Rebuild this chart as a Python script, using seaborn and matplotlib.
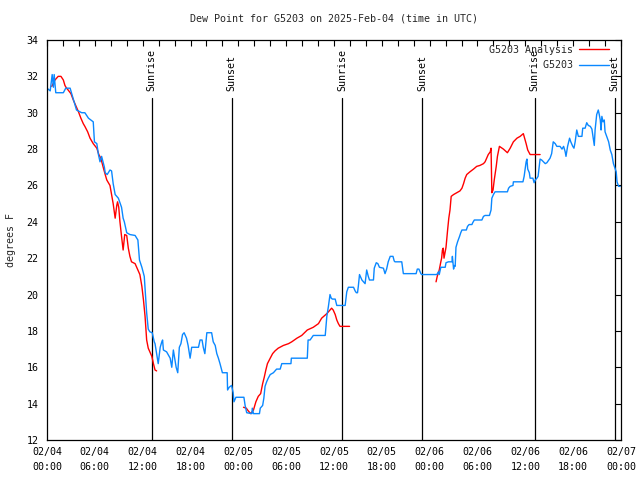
import numpy as np
import pandas as pd
import matplotlib
matplotlib.use('Agg')
import matplotlib.pyplot as plt
import matplotlib.transforms as mtransforms
from matplotlib.lines import Line2D
import seaborn as sns

start = pd.Timestamp('2025-02-04 00:00')

# G5203 observations: hours after 02/04 00:00 UTC, dew point in F
obs_hours = [0.0, 0.4, 0.65, 0.8, 0.9, 1.1, 2.05, 2.35, 2.9, 3.1, 3.7, 4.35, 4.75, 5.2, 5.8,
             5.95, 6.25, 6.45, 6.65, 6.85, 7.2, 7.3, 7.55, 7.9, 8.1, 8.3, 8.55, 8.95, 9.35,
             9.55, 9.7, 10.0, 10.4, 11.05, 11.4, 11.6, 11.9, 12.2, 12.4, 12.5, 12.7, 12.9,
             13.2, 13.45, 13.55, 13.75, 13.95, 14.2, 14.4, 14.5, 14.6, 15.0, 15.45, 15.65,
             15.85, 16.2, 16.4, 16.6, 16.8, 17.0, 17.2, 17.5, 17.7, 17.95, 18.15, 19.0,
             19.2, 19.45, 19.6, 19.8, 20.05, 20.65, 20.85, 21.1, 21.3, 21.5, 21.7, 22.0,
             22.6, 22.65, 22.85, 23.15, 23.35, 23.45, 23.7, 24.7, 24.85, 25.05, 25.7,
             25.75, 25.9, 26.65, 26.75, 27.05, 27.2, 27.35, 27.55, 27.75, 28.0, 28.4, 28.8,
             29.25, 29.45, 30.6, 30.65, 32.65, 32.75, 33.0, 33.4, 34.9, 35.1, 35.3, 35.5,
             35.65, 35.8, 36.15, 36.35, 37.4, 37.6, 37.8, 38.45, 38.65, 38.8, 38.95, 39.05,
             39.2, 39.5, 39.7, 39.9, 40.0, 40.1, 40.3, 40.45, 40.95, 41.05, 41.3, 41.5,
             41.7, 42.2, 42.4, 42.6, 42.8, 43.05, 43.4, 43.55, 43.65, 44.5, 44.7, 46.3,
             46.45, 46.65, 46.9, 47.0, 48.9, 49.1, 49.2, 49.4, 49.95, 50.05, 50.35, 50.8,
             50.85, 51.0, 51.1, 51.2, 51.3, 51.5, 51.75, 51.9, 52.05, 52.6, 52.75, 52.95,
             53.3, 53.4, 53.6, 54.55, 54.75, 54.95, 55.5, 55.7, 55.8, 56.0, 56.2, 57.75,
             57.9, 58.1, 58.45, 58.5, 59.7, 59.85, 60.1, 60.2, 60.3, 60.5, 60.6, 60.95,
             61.1, 61.25, 61.45, 61.6, 61.75, 61.85, 62.05, 62.5, 62.7, 63.1, 63.3, 63.5,
             63.75, 63.95, 64.35, 64.6, 64.8, 65.0, 65.1, 65.3, 65.55, 65.7, 65.95, 66.1,
             66.25, 66.45, 66.65, 67.1, 67.2, 67.5, 67.7, 67.9, 68.15, 68.35, 68.55, 68.65,
             68.75, 68.95, 69.15, 69.25, 69.4, 69.5, 69.6, 69.75, 69.9, 70.0, 70.2, 70.45,
             70.65, 70.85, 71.05, 71.25, 71.4, 71.5, 71.7, 71.9]
obs_dewpt = [31.35, 31.2, 32.1, 31.4, 32.1, 31.1, 31.1, 31.35, 31.35, 31.05, 30.15, 30.0,
             30.0, 29.7, 29.5, 28.4, 28.3, 27.7, 27.3, 27.6, 27.0, 26.7, 26.6, 26.85, 26.8,
             26.1, 25.5, 25.3, 24.8, 24.2, 24.0, 23.4, 23.3, 23.25, 23.0, 21.9, 21.5, 21.0,
             19.7, 19.0, 18.1, 17.95, 17.9, 17.4, 17.3, 16.75, 16.2, 17.1, 17.4, 17.5,
             16.95, 16.85, 16.5, 16.0, 16.95, 16.0, 15.7, 17.1, 17.3, 17.8, 17.9, 17.6,
             17.2, 16.5, 17.1, 17.1, 17.5, 17.5, 17.1, 16.75, 17.9, 17.9, 17.4, 17.2,
             16.75, 16.5, 16.2, 15.7, 15.7, 14.75, 14.9, 15.0, 14.6, 14.1, 14.35, 14.35,
             13.9, 13.5, 13.45, 13.75, 13.45, 13.45, 13.75, 13.9, 14.3, 14.95, 15.2, 15.4,
             15.6, 15.7, 15.9, 15.9, 16.2, 16.2, 16.5, 16.5, 17.5, 17.5, 17.75, 17.75, 18.8,
             19.35, 20.0, 19.8, 19.75, 19.75, 19.4, 19.4, 20.15, 20.4, 20.4, 20.2, 20.1,
             20.1, 20.45, 21.1, 20.8, 20.7, 20.6, 21.0, 21.35, 21.0, 20.8, 20.8, 21.45,
             21.75, 21.7, 21.5, 21.45, 21.15, 21.4, 21.8, 22.1, 22.1, 21.85, 21.8, 21.8,
             21.15, 21.15, 21.4, 21.4, 21.15, 21.1, 21.1, 21.25, 21.1, 21.5, 21.5, 21.75,
             21.8, 21.8, 22.1, 21.4, 21.6, 21.55, 22.6, 22.9, 23.2, 23.4, 23.55, 23.55,
             23.75, 23.85, 23.85, 23.95, 24.1, 24.1, 24.3, 24.35, 24.35, 24.65, 25.3, 25.5,
             25.65, 25.65, 25.85, 25.95, 26.0, 26.2, 26.2, 26.5, 27.3, 27.45, 26.9, 26.7,
             26.4, 26.4, 26.15, 26.3, 26.4, 26.5, 27.1, 27.45, 27.4, 27.2, 27.25, 27.5,
             27.75, 28.4, 28.3, 28.15, 28.15, 28.0, 28.15, 27.85, 27.6, 28.15, 28.6, 28.4,
             28.15, 28.05, 28.4, 29.05, 28.7, 28.7, 29.15, 29.15, 29.45, 29.3, 29.25, 29.1,
             28.5, 28.2, 29.05, 29.9, 30.15, 29.95, 29.6, 29.05, 29.8, 29.5, 29.6, 28.95,
             28.7, 28.4, 27.95, 27.7, 27.2, 26.95, 26.75, 26.2, 25.95, 25.95]

# G5203 analysis, three separate runs
ana1_hours = [0.6, 1.0, 1.4, 1.75, 2.05, 2.25, 2.45, 2.65, 3.0, 3.3, 3.6, 3.95, 4.25, 4.55,
              4.75, 5.1, 5.4, 5.8, 6.25, 6.5, 6.75, 7.05, 7.3, 7.5, 7.9, 8.1, 8.3, 8.55,
              8.75, 8.85, 9.0, 9.15, 9.35, 9.55, 9.75, 10.0, 10.2, 10.4, 10.6, 11.05, 11.4,
              11.65, 11.9, 12.1, 12.3, 12.5, 12.7, 12.9, 13.15, 13.35, 13.55, 13.75]
ana1_dewpt = [31.45, 31.8, 32.0, 32.0, 31.8, 31.5, 31.35, 31.25, 31.05, 30.7, 30.4, 30.05,
              29.7, 29.4, 29.25, 28.95, 28.6, 28.3, 28.05, 27.7, 27.5, 27.0, 26.6, 26.3,
              26.0, 25.5, 25.0, 24.2, 24.9, 25.1, 24.8, 24.0, 23.2, 22.45, 23.3, 23.25,
              22.55, 22.1, 21.8, 21.7, 21.35, 21.1, 20.45, 19.7, 18.8, 17.5, 17.05, 16.85,
              16.6, 16.2, 15.85, 15.8]
ana2_hours = [24.65, 25.0, 25.25, 25.55, 25.9, 26.2, 26.5, 26.8, 27.05, 27.25, 27.45, 27.65,
              28.0, 28.3, 28.6, 29.0, 29.65, 30.3, 30.7, 31.35, 31.95, 32.65, 33.4, 34.05,
              34.45, 35.1, 35.7, 35.9, 36.15, 36.35, 36.55, 36.75, 37.95]
ana2_dewpt = [13.8, 13.75, 13.6, 13.45, 13.65, 14.1, 14.4, 14.55, 15.1, 15.45, 15.85, 16.2,
              16.5, 16.75, 16.9, 17.05, 17.2, 17.3, 17.4, 17.6, 17.75, 18.05, 18.2, 18.4,
              18.7, 18.95, 19.25, 19.15, 18.9, 18.6, 18.4, 18.25, 18.25]
ana3_hours = [48.8, 48.95, 49.2, 49.4, 49.5, 49.6, 49.7, 49.8, 50.05, 50.25, 50.4, 50.55,
              50.7, 51.0, 51.4, 51.8, 52.05, 52.25, 52.45, 52.65, 53.05, 53.5, 53.9, 54.3,
              54.75, 54.95, 55.15, 55.35, 55.6, 55.7, 55.8, 55.95, 56.1, 56.35, 56.5, 56.75,
              57.25, 57.75, 58.1, 58.5, 58.95, 59.35, 59.75, 60.1, 60.3, 60.6, 61.85]
ana3_dewpt = [20.7, 21.0, 21.35, 21.8, 22.0, 22.45, 22.55, 22.0, 22.6, 23.55, 24.2, 24.65,
              25.4, 25.5, 25.6, 25.7, 25.85, 26.1, 26.4, 26.6, 26.75, 26.9, 27.05, 27.1,
              27.2, 27.3, 27.5, 27.7, 27.85, 28.05, 25.6, 25.75, 26.3, 27.05, 27.6, 28.15,
              28.0, 27.8, 28.05, 28.4, 28.6, 28.7, 28.85, 28.3, 27.95, 27.7, 27.7]

sun_hours = [13.13, 23.15, 37.05, 47.1, 61.15, 71.2]
sun_labels = ['Sunrise', 'Sunset', 'Sunrise', 'Sunset', 'Sunrise', 'Sunset']

obs = pd.DataFrame({'hours': obs_hours, 'dewpt': obs_dewpt})
ana = pd.concat([
    pd.DataFrame({'hours': h, 'dewpt': d, 'piece': i})
    for i, (h, d) in enumerate([(ana1_hours, ana1_dewpt), (ana2_hours, ana2_dewpt),
                                (ana3_hours, ana3_dewpt)])
])

sns.set_theme(style='white')
plt.rcParams['font.family'] = ['DejaVu Sans Mono']
plt.rcParams['font.size'] = 7.2

red = '#ff0000'
blue = '#0a88ff'

fig = plt.figure(figsize=(6.4, 4.8), dpi=100)
ax = fig.add_axes([47 / 640, 40 / 480, 574 / 640, 400 / 480])

sns.lineplot(data=ana, x='hours', y='dewpt', units='piece', estimator=None,
             color=red, lw=1.0, ax=ax, legend=False)
sns.lineplot(data=obs, x='hours', y='dewpt', color=blue, lw=1.0, ax=ax, legend=False)

trans = mtransforms.blended_transform_factory(ax.transData, ax.transAxes)
for h, lab in zip(sun_hours, sun_labels):
    ax.plot([h, h], [0, 0.855], color='black', lw=0.9, transform=trans, zorder=1)
    ax.text(h, 0.872, lab, rotation=90, ha='center', va='bottom', transform=trans,
            fontsize=7.2, color='black')

ax.set_xlim(0, 72)
ax.set_ylim(12, 34)
ax.set_xticks(np.arange(0, 73, 2), minor=True)
ax.set_xticks(np.arange(0, 73, 6))
ax.set_xticklabels([(start + pd.Timedelta(hours=int(h))).strftime('%m/%d\n%H:%M')
                    for h in np.arange(0, 73, 6)], linespacing=1.65)
ax.set_yticks(np.arange(12, 35, 2))
ax.tick_params(axis='both', which='both', direction='in', length=4, width=0.8,
               top=True, right=True, colors='black', labelsize=7.2)
ax.tick_params(axis='x', which='major', pad=5)
ax.tick_params(axis='y', which='major', pad=6)
for s in ax.spines.values():
    s.set_color('black')
    s.set_linewidth(0.9)

ax.set_xlabel('')
ax.set_ylabel('degrees F', fontsize=7.2)
ax.yaxis.set_label_coords(-0.054, 0.5)
ax.set_title('Dew Point for G5203 on 2025-Feb-04 (time in UTC)', fontsize=7.2, pad=13)

handles = [Line2D([], [], color=red, lw=1.0), Line2D([], [], color=blue, lw=1.0)]
ax.legend(handles, ['G5203 Analysis', '         G5203'], loc='upper right',
          bbox_to_anchor=(0.988, 1.0), frameon=False, markerfirst=False,
          handlelength=3.0, handletextpad=0.6, labelspacing=0.55, borderaxespad=0.3,
          borderpad=0.2, fontsize=7.2)

fig.savefig('out.png', dpi=100)
